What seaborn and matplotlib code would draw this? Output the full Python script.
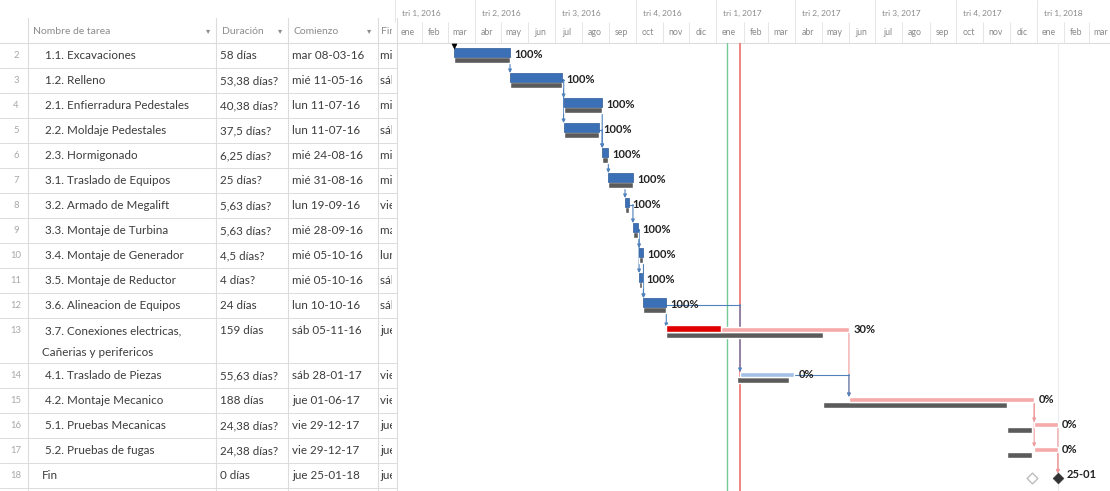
import matplotlib
matplotlib.use('Agg')
import matplotlib.pyplot as plt
import matplotlib.dates as mdates
from matplotlib.ticker import FuncFormatter, NullFormatter
from matplotlib.transforms import Bbox, TransformedBbox
import seaborn as sns
import pandas as pd

filas = list(range(2, 19))
tareas = [
    '1.1. Excavaciones', '1.2. Relleno', '2.1. Enfierradura Pedestales',
    '2.2. Moldaje Pedestales', '2.3. Hormigonado', '3.1. Traslado de Equipos',
    '3.2. Armado de Megalift', '3.3. Montaje de Turbina', '3.4. Montaje de Generador',
    '3.5. Montaje de Reductor', '3.6. Alineacion de Equipos',
    '3.7. Conexiones electricas,\nCañerias y perifericos', '4.1. Traslado de Piezas',
    '4.2. Montaje Mecanico', '5.1. Pruebas Mecanicas', '5.2. Pruebas de fugas', 'Fin']
duraciones = ['58 días', '53,38 días?', '40,38 días?', '37,5 días?', '6,25 días?', '25 días?',
              '5,63 días?', '5,63 días?', '4,5 días?', '4 días?', '24 días', '159 días',
              '55,63 días?', '188 días', '24,38 días?', '24,38 días?', '0 días']
comienzo = ['2016-03-08', '2016-05-11', '2016-07-11', '2016-07-11', '2016-08-24', '2016-08-31',
            '2016-09-19', '2016-09-28', '2016-10-05', '2016-10-05', '2016-10-10', '2016-11-05',
            '2017-01-28', '2017-06-01', '2017-12-29', '2017-12-29', '2018-01-25']
fin = ['2016-05-11', '2016-07-09', '2016-08-24', '2016-08-20', '2016-08-31', '2016-09-28',
       '2016-09-23', '2016-10-04', '2016-10-10', '2016-10-08', '2016-11-05', '2017-06-01',
       '2017-03-31', '2017-12-29', '2018-01-25', '2018-01-25', '2018-01-25']
base_ini = comienzo[:11] + ['2016-11-05', '2017-01-24', '2017-05-03', '2017-11-28', '2017-11-28', '2017-12-26']
base_fin = fin[:11] + ['2017-05-03', '2017-03-25', '2017-11-28', '2017-12-26', '2017-12-26', '2017-12-26']
avance = [100] * 11 + [30, 0, 0, 0, 0, 0]
critica = [False] * 11 + [True, False, True, True, True, True]
enlaces = [(0, 1), (1, 2), (1, 3), (2, 4), (3, 4), (4, 5), (5, 6), (6, 7), (7, 8), (7, 9),
           (8, 10), (9, 10), (10, 11), (10, 12), (11, 13), (12, 13), (13, 14), (13, 15),
           (14, 16), (15, 16)]
meses = ['ene', 'feb', 'mar', 'abr', 'may', 'jun', 'jul', 'ago', 'sep', 'oct', 'nov', 'dic']
dias_sem = ['lun', 'mar', 'mié', 'jue', 'vie', 'sáb', 'dom']
fecha_estado = '2017-01-13'
fecha_actual = '2017-01-28'

df = pd.DataFrame({'fila': filas, 'tarea': tareas, 'duracion': duraciones,
                   'comienzo': pd.to_datetime(comienzo), 'fin': pd.to_datetime(fin),
                   'lb_ini': pd.to_datetime(base_ini), 'lb_fin': pd.to_datetime(base_fin),
                   'avance': avance, 'critica': critica})
for c in ['comienzo', 'fin', 'lb_ini', 'lb_fin']:
    df[c + '_n'] = mdates.date2num(df[c])
df['hito'] = df['comienzo'] == df['fin']

sns.set_theme(style='white')
plt.rcParams['font.family'] = ['Lato', 'DejaVu Sans']

W, H = 1110, 491
TOP, ROW, GX0 = 43, 25, 397
fig = plt.figure(figsize=(W / 100, H / 100), dpi=100)

# layout de filas
tops, y = [], TOP
for t in tareas:
    tops.append(y)
    y += ROW * (1.8 if '\n' in t else 1)
df['y'] = [t + ROW / 2 for t in tops]
df['bottom'] = [t + ROW * (1.8 if '\n' in n else 1) for t, n in zip(tops, tareas)]

# ---------- tabla ----------
tab = fig.add_axes([0, 0, 1, 1])
tab.set_xlim(0, W)
tab.set_ylim(H, 0)
tab.axis('off')

lc = '#dcdcdc'
tab.plot([0, W], [TOP, TOP], color=lc, lw=0.8)
for xc in [28, 216, 288, 378, GX0]:
    tab.plot([xc, xc], [18, H], color=lc, lw=0.8)
for b in df['bottom']:
    tab.plot([0, GX0], [b, b], color=lc, lw=0.7)

hdr = dict(fontsize=7.5, color='#8c8c8c', va='center')
tab.text(33, 31, 'Nombre de tarea', **hdr)
tab.text(206, 31, '▾', fontsize=6, color='#8c8c8c', va='center', family='DejaVu Sans')
tab.text(222, 31, 'Duración', **hdr)
tab.text(278, 31, '▾', fontsize=6, color='#8c8c8c', va='center', family='DejaVu Sans')
tab.text(293, 31, 'Comienzo', **hdr)
tab.text(367, 31, '▾', fontsize=6, color='#8c8c8c', va='center', family='DejaVu Sans')
clip = TransformedBbox(Bbox([[378, 0], [392, H]]), tab.transData)
th = tab.text(381, 31, 'Fin', **hdr)
th.set_clip_box(clip)
th.set_clip_on(True)

txt = dict(fontsize=8.4, color='#3c3c3c', va='center')
for r in df.itertuples():
    tab.text(16, r.y, str(r.fila), fontsize=6.8, color='#a8a8a8', va='center', ha='center')
    lineas = r.tarea.split('\n')
    for i, ln in enumerate(lineas):
        x = 45 if (i == 0 and ln[0].isdigit()) else 42
        tab.text(x, r.y + i * 22.5, ln, **txt)
    tab.text(220, r.y, r.duracion, **txt)
    d = r.comienzo
    tab.text(292, r.y, f'{dias_sem[d.weekday()]} {d:%d-%m-%y}', **txt)
    f = r.fin
    tf = tab.text(380, r.y, f'{dias_sem[f.weekday()]} {f:%d-%m-%y}', **txt)
    tf.set_clip_box(clip)
    tf.set_clip_on(True)

# ---------- gantt ----------
ax = fig.add_axes([GX0 / W, 0, (W - GX0) / W, (H - TOP) / H])
ax.set_facecolor('none')

c_azul, c_gris = '#3c70b6', '#5b5b5b'
c_rosa, c_rojo, c_celeste = '#f6aaaa', '#e00000', '#a3c1e6'
c_link, c_link_crit = '#4f81bd', '#ef9a9a'

ax.axvline(mdates.date2num(pd.Timestamp(fecha_estado)), color='#74c994', lw=1, zorder=1)
ax.axvline(mdates.date2num(pd.Timestamp(fecha_actual)), color='#ec7070', lw=1.2, zorder=1)
ax.axvline(df['fin_n'].iloc[-1], color='#ececec', lw=0.8, zorder=0)

for r in df.itertuples():
    if r.hito:
        continue
    ax.barh(r.y + 4.5, r.lb_fin_n - r.lb_ini_n, left=r.lb_ini_n, height=6,
            color=c_gris, zorder=3)
    dur = r.fin_n - r.comienzo_n
    if r.avance == 100:
        ax.barh(r.y - 3, dur, left=r.comienzo_n, height=9, color=c_azul,
                edgecolor='#2c5a97', lw=0.5, zorder=4)
    elif r.critica:
        ax.barh(r.y - 1, dur, left=r.comienzo_n, height=5, color=c_rosa, zorder=4)
        if r.avance > 0:
            ax.barh(r.y - 2, dur * r.avance / 100, left=r.comienzo_n, height=7,
                    color=c_rojo, zorder=5)
    else:
        ax.barh(r.y - 1, dur, left=r.comienzo_n, height=5, color=c_celeste, zorder=4)

# enlaces fin-comienzo
for a, b in enlaces:
    pa, pb = df.iloc[a], df.iloc[b]
    col = c_link_crit if (pa.critica and pb.critica) else c_link
    y_ini = pa.y + 1.5
    if pb.comienzo_n > pa.fin_n:
        ax.plot([pa.fin_n, pb.comienzo_n], [pa.y - 1, pa.y - 1], color=col, lw=0.8, zorder=2)
        y_ini = pa.y - 1
    if pb.hito:
        y_fin = pb.y - 2
    else:
        y_fin = pb.y - (7.5 if pb.avance == 100 else 3.5)
    ax.annotate('', xy=(pb.comienzo_n, y_fin), xytext=(pb.comienzo_n, y_ini),
                arrowprops=dict(arrowstyle='-|>', color=col, lw=0.8, mutation_scale=5,
                                shrinkA=0, shrinkB=0), zorder=2)

# hitos (seaborn)
hitos = df[df['hito']]
sns.scatterplot(x=hitos['lb_fin_n'].values, y=(hitos['y'] + 2.5).values, marker='D', s=30,
                color='white', edgecolor='#bdbdbd', linewidth=1, ax=ax, zorder=6, legend=False)
sns.scatterplot(x=hitos['fin_n'].values, y=(hitos['y'] + 2.5).values, marker='D', s=30,
                color='#333333', edgecolor='#333333', ax=ax, zorder=7, legend=False)
sns.scatterplot(x=[df['comienzo_n'].iloc[0]], y=[df['y'].iloc[0] - 9.5], marker='v', s=14,
                color='black', edgecolor='black', ax=ax, zorder=7, legend=False)

# etiquetas
for r in df.itertuples():
    if r.hito:
        lab, x = f'{r.fin:%d-%m}', r.fin_n
        off = 6
    else:
        lab, x = f'{r.avance}%', max(r.fin_n, r.lb_fin_n)
        off = 3
    ax.annotate(lab, (x, r.y - 1), xytext=(off, 0), textcoords='offset points',
                va='center', ha='left', fontsize=8, fontweight='bold', color='#222222', zorder=8)

# escala de tiempo
x0 = mdates.date2num(pd.Timestamp('2016-01-01'))
px_dia = 0.878
ax.set_xlim(x0 + (GX0 - 395) / px_dia, x0 + (W - 395) / px_dia)
ax.set_ylim(H, TOP)
ax.set_yticks([])
ax.set_xlabel('')
ax.set_ylabel('')
for s in ax.spines.values():
    s.set_visible(False)

ax.xaxis.tick_top()
ax.xaxis.set_major_locator(mdates.MonthLocator())
ax.xaxis.set_major_formatter(NullFormatter())
ax.xaxis.set_minor_locator(mdates.MonthLocator(bymonthday=15))
ax.xaxis.set_minor_formatter(FuncFormatter(lambda v, p: meses[mdates.num2date(v).month - 1]))
ax.tick_params(axis='x', which='major', length=15, width=0.6, color='#e2e2e2',
               direction='out', top=True, bottom=False)
ax.tick_params(axis='x', which='minor', length=0, pad=4.5, labelsize=6.3, labelcolor='#8a8a8a',
               top=True, bottom=False, labeltop=True, labelbottom=False)

trans = ax.get_xaxis_transform()
hax = H - TOP
for q in pd.date_range('2016-01-01', '2018-01-01', freq='QS'):
    qn = mdates.date2num(q)
    ax.plot([qn, qn], [1 + 21 / hax, 1 + 43 / hax], transform=trans, color='#e2e2e2',
            lw=0.6, clip_on=False)
    ax.text(qn + 8, 1 + 30 / hax, f'tri {(q.month - 1) // 3 + 1}, {q.year}', transform=trans,
            fontsize=6, color='#8a8a8a', va='center', ha='left', clip_on=False)

fig.savefig('out.png', dpi=100)
